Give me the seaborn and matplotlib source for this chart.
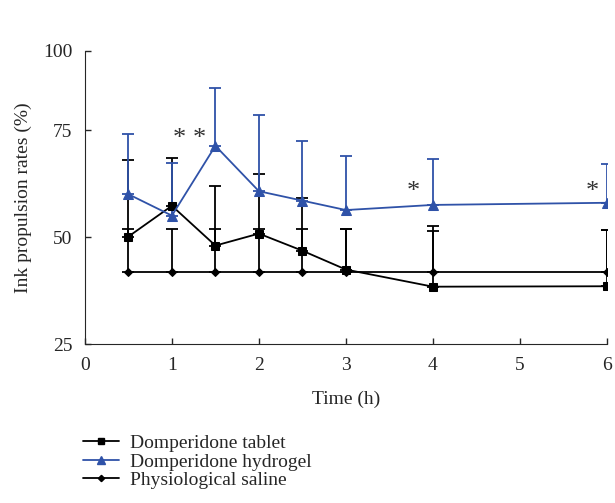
import numpy as np
import pandas as pd
import matplotlib
matplotlib.use("Agg")
import matplotlib.pyplot as plt
from matplotlib.lines import Line2D
import seaborn as sns

sns.set_style("ticks")
plt.rcParams['font.family'] = ['Liberation Serif', 'DejaVu Serif']

# data
time_h = [0.5, 1, 1.5, 2, 2.5, 3, 4, 6]
tablet_mean = [50.1, 57.3, 48.0, 50.8, 46.8, 42.4, 38.4, 38.5]
tablet_upper = [68.0, 68.5, 62.0, 64.8, 59.2, 51.8, 52.6, 51.6]
hydrogel_mean = [60.0, 55.0, 71.3, 60.7, 58.5, 56.3, 57.5, 58.0]
hydrogel_upper = [74.1, 67.4, 84.7, 78.5, 72.4, 68.9, 68.2, 67.1]
saline_mean = [41.9, 41.9, 41.9, 41.9, 41.9, 41.9, 41.9, 41.9]
saline_upper = [51.9, 51.9, 51.9, 51.9, 51.9, 51.9, 51.5, 51.6]
series_names = ["Domperidone tablet", "Domperidone hydrogel", "Physiological saline"]
star_x = [1.09, 1.32, 3.77, 5.83]
star_y = [73.0, 73.0, 60.5, 60.5]

blue = "#2f52a8"
colors = ["black", blue, "black"]
markers = ["s", "^", "D"]
msizes = [6, 7, 4]

df = pd.DataFrame({
    "time": time_h * 3,
    "rate": tablet_mean + hydrogel_mean + saline_mean,
    "upper": tablet_upper + hydrogel_upper + saline_upper,
    "group": [series_names[0]] * 8 + [series_names[1]] * 8 + [series_names[2]] * 8,
})

fig = plt.figure(figsize=(6.15, 5.03), dpi=100)
ax = fig.add_axes([0.138, 0.316, 0.849, 0.583])

# error bars (upper only), drawn first so lines sit on top
for name, col in zip(series_names, colors):
    d = df[df["group"] == name]
    ax.errorbar(d["time"], d["rate"], yerr=[np.zeros(len(d)), d["upper"] - d["rate"]],
                fmt="none", ecolor=col, elinewidth=1.3, capsize=4, capthick=1.3, zorder=2)

sns.lineplot(data=df, x="time", y="rate", hue="group", style="group",
             hue_order=series_names, style_order=series_names,
             palette=colors, markers=dict(zip(series_names, markers)),
             dashes=False, linewidth=1.3, ax=ax, zorder=3, legend=False)
for line, ms, col in zip(ax.get_lines()[-3:], msizes, colors):
    line.set_markersize(ms)
    line.set_markeredgecolor(col)

for sx, sy in zip(star_x, star_y):
    ax.text(sx, sy, "*", fontsize=19, ha="center", va="center", color="#333333")

ax.set_xlim(0, 6)
ax.set_ylim(25, 93.5)
ax.set_xticks([0, 1, 2, 3, 4, 5, 6])
ax.set_yticks([25, 50, 75, 93.5])
ax.set_yticklabels(["25", "50", "75", "100"])
ax.tick_params(axis="both", direction="in", length=4, labelsize=14, width=1)
ax.tick_params(axis="x", pad=9)
ax.tick_params(axis="y", pad=9)
ax.set_xlabel("Time (h)", fontsize=14, labelpad=12)
ax.set_ylabel("Ink propulsion rates (%)", fontsize=14, labelpad=8)
sns.despine(ax=ax)

handles = [Line2D([], [], color=c, marker=m, markersize=s * 0.8, linewidth=1.3)
           for c, m, s in zip(colors, markers, msizes)]
fig.legend(handles, series_names, loc="upper left", bbox_to_anchor=(0.122, 0.152),
           frameon=False, fontsize=14, handlelength=1.85, labelspacing=0.05,
           borderaxespad=0, handletextpad=0.6)

fig.savefig("out.png", dpi=100)
